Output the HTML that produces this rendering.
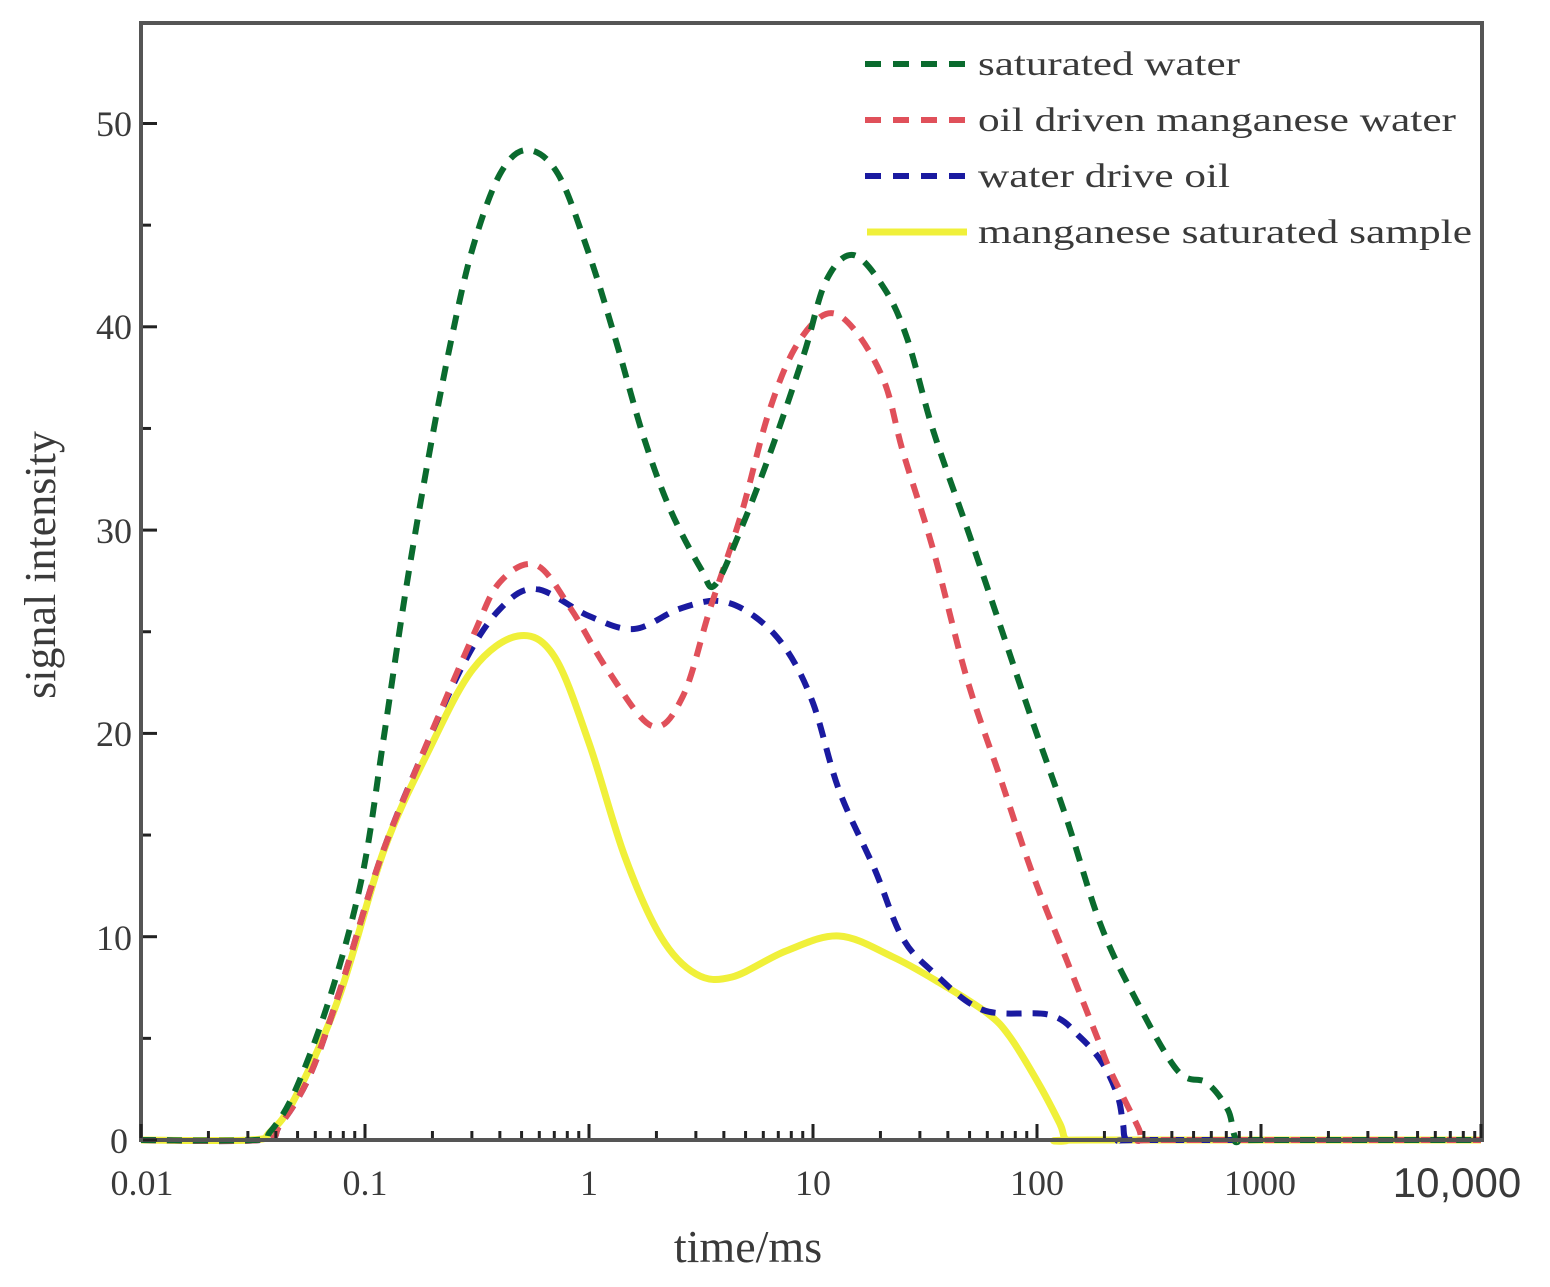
<!DOCTYPE html>
<html><head><meta charset="utf-8">
<style>
html,body{margin:0;padding:0;background:#fff;}
svg text{font-family:"Liberation Serif",serif;fill:#3a3a3a;}
</style></head>
<body>
<svg id="s" width="1550" height="1282" viewBox="0 0 1550 1282" xmlns="http://www.w3.org/2000/svg">
<rect x="0" y="0" width="1550" height="1282" fill="#fff"/>
<g id="curves"></g>
<rect x="141" y="23" width="1341" height="1117" fill="none" stroke="#555" stroke-width="4"/>
<g id="ticks" stroke="#222" stroke-width="3"></g>
<g font-size="36" text-anchor="end">
<text x="132" y="136">50</text>
<text x="132" y="339">40</text>
<text x="132" y="543">30</text>
<text x="132" y="746">20</text>
<text x="132" y="950">10</text>
<text x="128" y="1153">0</text>
</g>
<g font-size="36" text-anchor="middle">
<text x="142" y="1195">0.01</text>
<text x="365" y="1195">0.1</text>
<text x="589" y="1195">1</text>
<text x="813" y="1195">10</text>
<text x="1037" y="1195">100</text>
<text x="1260" y="1195">1000</text>
<text x="1457" y="1197" style="font-family:'Liberation Sans',sans-serif" font-size="42">10,000</text>
</g>
<text x="748" y="1262" font-size="46" text-anchor="middle">time/ms</text>
<text transform="translate(55,565) rotate(-90)" font-size="44" text-anchor="middle">signal intensity</text>
<g stroke-width="6" stroke-dasharray="16 12">
<line x1="865" y1="64" x2="965" y2="64" stroke="#0a6b2e"/>
<line x1="865" y1="120" x2="965" y2="120" stroke="#e0505a"/>
<line x1="865" y1="176" x2="965" y2="176" stroke="#1a1aa0"/>
</g>
<line x1="867" y1="232" x2="967" y2="232" stroke="#f0f03a" stroke-width="7"/>
<g font-size="34">
<text x="978" y="75" textLength="262" lengthAdjust="spacingAndGlyphs">saturated water</text>
<text x="978" y="131" textLength="478" lengthAdjust="spacingAndGlyphs">oil driven manganese water</text>
<text x="978" y="187" textLength="252" lengthAdjust="spacingAndGlyphs">water drive oil</text>
<text x="978" y="243" textLength="494" lengthAdjust="spacingAndGlyphs">manganese saturated sample</text>
</g>
</svg>
<script>
function cr(p){var d="M"+p[0][0]+","+p[0][1];for(var i=0;i<p.length-1;i++){var a=p[i-1]||p[i],b=p[i],c=p[i+1],e=p[i+2]||c;
var c1=[b[0]+(c[0]-a[0])/6,b[1]+(c[1]-a[1])/6],c2=[c[0]-(e[0]-b[0])/6,c[1]-(e[1]-b[1])/6];
d+=" C"+c1[0].toFixed(1)+","+c1[1].toFixed(1)+" "+c2[0].toFixed(1)+","+c2[1].toFixed(1)+" "+c[0]+","+c[1];}return d;}
var G=[[141,1140],[255,1140],[270,1132],[295,1091],[330,997],[362,877],[384,736],[406,589],[429,455],[451,341],[473,247],[500,174],[527,150],[558,174],[589,254],[616,341],[643,435],[670,509],[701,569],[715,585],[741,529],[772,448],[804,354],[826,281],[853,255],[884,288],[907,338],[933,430],[967,528],[1000,625],[1033,723],[1067,820],[1100,923],[1133,994],[1177,1070],[1207,1083],[1228,1110],[1237,1140],[1260,1140],[1481,1140]];
var R=[[141,1140],[260,1140],[280,1125],[310,1075],[340,990],[380,860],[420,760],[473,636],[500,582],[536,565],[571,609],[607,669],[652,726],[683,696],[710,609],[741,515],[768,415],[795,348],[826,314],[853,328],[884,381],[903,452],[933,549],[967,679],[1000,777],[1033,875],[1067,961],[1097,1037],[1110,1070],[1138,1127],[1143,1140],[1170,1140],[1481,1140]];
var B=[[141,1140],[260,1140],[280,1125],[310,1075],[340,990],[380,860],[420,760],[464,663],[500,609],[536,589],[589,616],[634,629],[679,609],[719,601],[754,616],[786,649],[813,703],[839,790],[875,870],[902,937],[933,972],[983,1010],[1050,1015],[1080,1037],[1103,1064],[1118,1097],[1123,1124],[1127,1140],[1150,1140],[1481,1140]];
var Y=[[141,1140],[250,1140],[270,1132],[295,1098],[339,997],[384,850],[429,750],[473,669],[518,636],[554,656],[589,743],[625,857],[661,937],[696,974],[732,977],[786,951],[839,936],[893,957],[940,983],[987,1013],[1010,1037],[1040,1086],[1060,1124],[1067,1140],[1090,1140],[1481,1140]];
var g=document.getElementById("curves"),ns="http://www.w3.org/2000/svg";
function add(p,col,w,dash){var e=document.createElementNS(ns,"path");e.setAttribute("d",cr(p));e.setAttribute("fill","none");e.setAttribute("stroke",col);e.setAttribute("stroke-width",w);if(dash)e.setAttribute("stroke-dasharray",dash);g.appendChild(e);}
add(Y,"#f0f03a",7);
add(B,"#1a1aa0",6,"15 11");
add(R,"#e0505a",6,"15 11");
add(G,"#0a6b2e",6,"15 11");
var t=document.getElementById("ticks"),s="";
for(var k=0;k<=50;k+=5){var y=1140-k*20.33;var L=(k%10==0)?14:8;s+='<line x1="143" y1="'+y+'" x2="'+(143+L)+'" y2="'+y+'"/>';}
for(var d=0;d<6;d++){for(var m=1;m<10;m++){var x=141+224*(d+Math.log10(m));var L=m==1?14:7;s+='<line x1="'+x+'" y1="1138" x2="'+x+'" y2="'+(1138-L)+'"/>';}}
s+='<line x1="1481" y1="1138" x2="1481" y2="1124"/>';
t.innerHTML=s;
</script>
</body></html>
